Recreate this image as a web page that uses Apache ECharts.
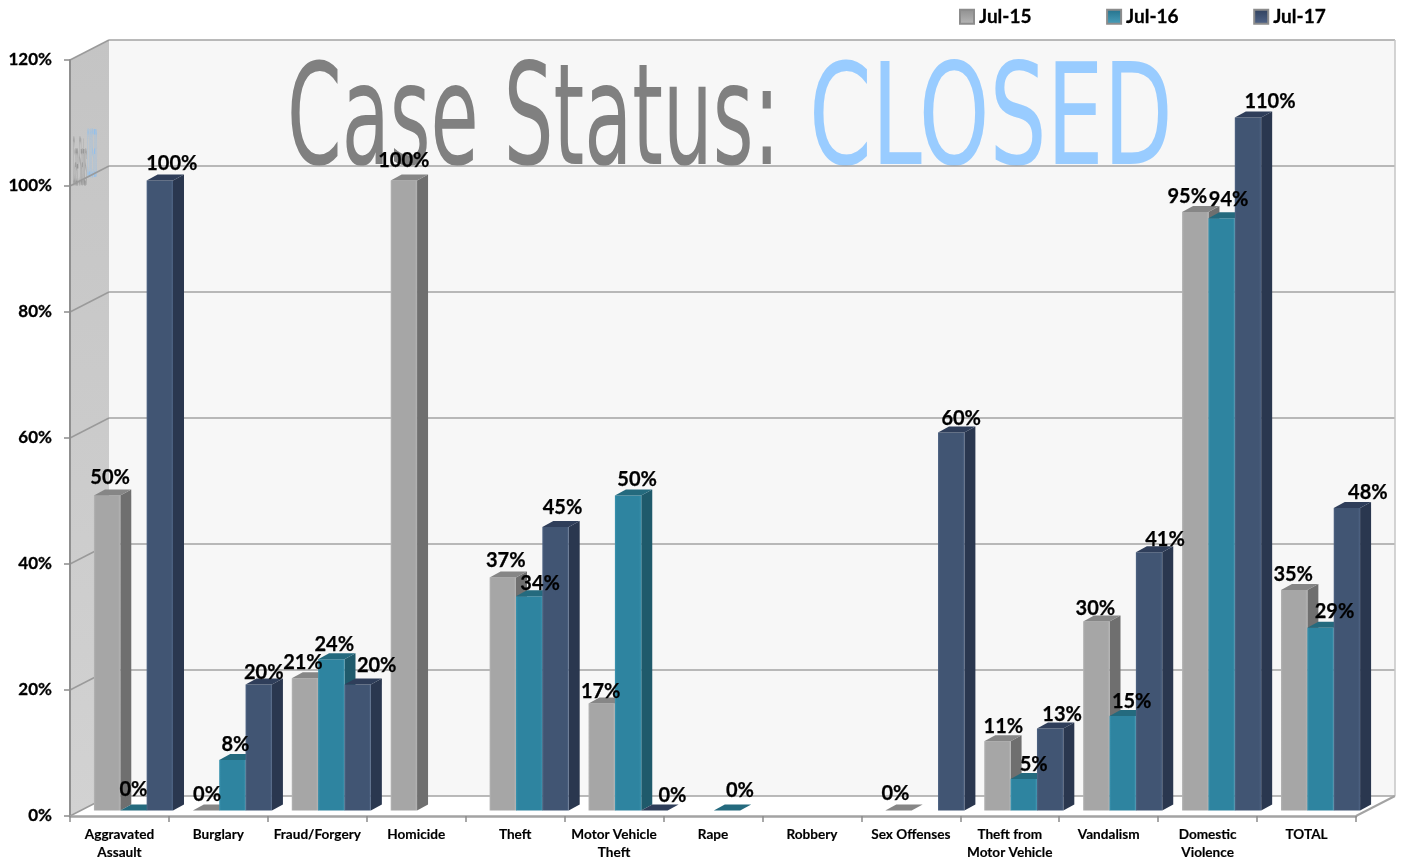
<!DOCTYPE html>
<html>
<head>
<meta charset="utf-8">
<script src="https://cdn.jsdelivr.net/npm/echarts@6/dist/echarts.min.js"></script>
<style>html,body{margin:0;padding:0;background:#fff}#c{width:1403px;height:862px}</style>
</head>
<body>
<div id="c"></div>
<script>
const categories = ['Aggravated\nAssault','Burglary','Fraud/Forgery','Homicide','Theft','Motor Vehicle\nTheft','Rape','Robbery','Sex Offenses','Theft from\nMotor Vehicle','Vandalism','Domestic\nViolence','TOTAL'];
const seriesNames = ['Jul-15','Jul-16','Jul-17'];
const jul15 = [50,0,21,100,37,17,null,null,0,11,30,95,35];
const jul16 = [0,8,24,null,34,50,0,null,null,5,15,94,29];
const jul17 = [100,20,20,null,45,0,null,null,60,13,41,110,48];
const yTicks = [0,20,40,60,80,100,120];
const titleLeft = 'Case Status:';
const titleRight = 'CLOSED';

// label placement tweaks (pixels, relative to the top centre of each bar)
const nudgeX = [
  [3,1,-2,0,3,-1,0,0,-3,6,-1,-8,-1],
  [0,3,3,0,11,9,13,0,0,10,9,7,14],
  [12,5,19,0,7,18,0,0,10,12,16,22,21]
];
const nudgeY = [
  [-18,-16,-16,-20,-17,-12,0,0,-17,-15,-13,-15,-15],
  [-21,-16,-15,0,-13,-16,-20,0,0,-14,-14,-19,-16],
  [-17,-12,-19,0,-19,-15,0,0,-14,-14,-13,-16,-16]
];

const allValues = [jul15, jul16, jul17];
const palette = [
  {front:'#a6a6a6', edge:'#b4b4b4', side:'#6f6f6f', top:'#868686', legend:['#8e8e8e','#b8b8b8']},
  {front:'#2e84a0', edge:'#3a94b0', side:'#1f5a6b', top:'#246a7e', legend:['#23708a','#4aa0bc']},
  {front:'#415573', edge:'#4f6484', side:'#2a374f', top:'#2f3e5a', legend:['#2f3f5c','#52668a']}
];
const WALL_DX = 39, WALL_DY = -20;      // back wall offset from the front plane
const BAR_DX = 14, BAR_DY = -5.5;       // bars stand a third of the way into the floor
const SIDE_DX = 11, SIDE_DY = -6;       // depth of a bar
const LABEL_FONT = '"Lato","Open Sans",sans-serif';

function poly(points, fill, extra) {
  return Object.assign({type:'polygon', shape:{points}, style:{fill, stroke:null}}, extra||{});
}
function seg(x1,y1,x2,y2,color,w) {
  return {type:'line', shape:{x1,y1,x2,y2}, style:{stroke:color, lineWidth:w||1.5}};
}

function renderWalls(params, api) {
  const sys = params.coordSys;
  const L = sys.x, R = sys.x + sys.width;
  const y0 = api.coord([0,0])[1], yMax = api.coord([0,yTicks[yTicks.length-1]])[1];
  const kids = [];
  kids.push(poly([[L+WALL_DX,yMax+WALL_DY],[R+WALL_DX,yMax+WALL_DY],[R+WALL_DX,y0+WALL_DY],[L+WALL_DX,y0+WALL_DY]],'#f7f7f7'));
  kids.push(poly([[L,yMax],[L+WALL_DX,yMax+WALL_DY],[L+WALL_DX,y0+WALL_DY],[L,y0]],
    new echarts.graphic.LinearGradient(0,0,0,1,[{offset:0,color:'#c4c4c4'},{offset:1,color:'#d2d2d2'}])));
  kids.push(poly([[L,y0],[L+WALL_DX,y0+WALL_DY],[R+WALL_DX,y0+WALL_DY],[R,y0]],'#ffffff'));
  // picture on the back wall
  const titleFont = '141px "DejaVu Sans"';
  kids.push({type:'text', x:287, y:127, scaleX:0.556, style:{text:titleLeft, font:titleFont, fill:'#808080', align:'left', verticalAlign:'middle'}});
  kids.push({type:'text', x:809, y:127, scaleX:0.638, style:{text:titleRight, font:titleFont, fill:'#99ccff', align:'left', verticalAlign:'middle'}});
  // the same picture squeezed on the side wall
  kids.push({type:'text', x:73, y:168, scaleX:0.034, style:{text:titleLeft, font:'66px "DejaVu Sans"', fill:'rgba(120,120,120,0.7)', align:'left', verticalAlign:'middle'}});
  kids.push({type:'text', x:87, y:160, scaleX:0.038, style:{text:titleRight, font:'66px "DejaVu Sans"', fill:'rgba(140,190,240,0.85)', align:'left', verticalAlign:'middle'}});
  yTicks.forEach(t => {
    const y = api.coord([0,t])[1];
    kids.push(seg(L,y,L+WALL_DX,y+WALL_DY,'#9a9a9a',1.5));
    kids.push(seg(L+WALL_DX,y+WALL_DY,R+WALL_DX,y+WALL_DY,'#a3a3a3',1.5));
  });
  kids.push(seg(R+WALL_DX,yMax+WALL_DY,R+WALL_DX,y0+WALL_DY,'#c6c6c6',1.5));
  kids.push(seg(R,y0,R+WALL_DX,y0+WALL_DY,'#a3a3a3',2));
  return {type:'group', children:kids};
}

function barGeom(api, idx, s, v) {
  const band = api.size([1,0])[0];
  const w = band * 0.2665;
  const c = api.coord([idx, v]);
  const b = api.coord([idx, 0]);
  const x = c[0] + BAR_DX + (s - 1.5) * w;
  return {x, w, top:c[1]+BAR_DY, base:b[1]+BAR_DY};
}

function makeBarRender(s) {
  return function(params, api) {
    const idx = api.value(0), v = api.value(1);
    const g = barGeom(api, idx, s, v);
    const c = palette[s];
    const x = g.x, w = g.w, t = g.top, b = g.base;
    const kids = [];
    if (b - t > 0.5) {
      kids.push(poly([[x+w,t],[x+w+SIDE_DX,t+SIDE_DY],[x+w+SIDE_DX,b+SIDE_DY],[x+w,b]], c.side));
      kids.push({type:'rect', shape:{x,y:t,width:w,height:b-t}, style:{
        fill:new echarts.graphic.LinearGradient(0,0,1,0,[
          {offset:0,color:c.edge},{offset:0.07,color:c.front},{offset:0.92,color:c.front},{offset:1,color:c.edge}])}});
    }
    kids.push(poly([[x,t],[x+SIDE_DX,t+SIDE_DY],[x+w+SIDE_DX,t+SIDE_DY],[x+w,t]], c.top));
    return {type:'group', children:kids};
  };
}

function makeLabelRender(s) {
  return function(params, api) {
    const idx = api.value(0), v = api.value(1);
    const g = barGeom(api, idx, s, v);
    return {type:'text', x:g.x + g.w/2 + nudgeX[s][idx], y:g.top + nudgeY[s][idx],
      style:{text:v + '%', font:'bold 20px ' + LABEL_FONT, fill:'#000', stroke:'#000', lineWidth:0.25, align:'center', verticalAlign:'middle'}};
  };
}

function pairs(values) {
  const out = [];
  values.forEach((v,i) => { if (v !== null) out.push([i,v]); });
  return out;
}

const series = [{
  type:'custom', name:'walls', z:1, silent:true, clip:false, renderItem:renderWalls,
  coordinateSystem:'cartesian2d', data:[[0,0]], encode:{x:0,y:1}
}];
seriesNames.forEach((name,s) => {
  series.push({
    type:'custom', name, z:3, silent:true, clip:false, renderItem:makeBarRender(s),
    coordinateSystem:'cartesian2d', data:pairs(allValues[s]), encode:{x:0,y:1},
    itemStyle:{color:new echarts.graphic.LinearGradient(0,0,0,1,[{offset:0,color:palette[s].legend[0]},{offset:1,color:palette[s].legend[1]}]), borderColor:'#8c8c8c', borderWidth:1}
  });
});
seriesNames.forEach((name,s) => {
  series.push({
    type:'custom', name:name+' labels', z:5, silent:true, clip:false, renderItem:makeLabelRender(s),
    coordinateSystem:'cartesian2d', data:pairs(allValues[s]), encode:{x:0,y:1}
  });
});

const chart = echarts.init(document.getElementById('c'), null, {renderer:'canvas'});
chart.setOption({
  animation:false,
  backgroundColor:'#ffffff',
  legend:{
    data:seriesNames, left:954, top:2, icon:'rect', itemWidth:14, itemHeight:14, itemGap:74.5,
    textStyle:{fontFamily:LABEL_FONT, fontWeight:'bold', fontSize:19, color:'#000', textBorderColor:'#000', textBorderWidth:0.3}
  },
  grid:{left:70, right:47, top:60, bottom:46, containLabel:false},
  xAxis:{
    type:'category', data:categories, boundaryGap:true, z:4,
    axisLine:{show:true, lineStyle:{color:'#a3a3a3', width:2.5}},
    axisTick:{show:true, length:6, alignWithLabel:false, lineStyle:{color:'#8c8c8c', width:1.5}},
    axisLabel:{interval:0, margin:10, lineHeight:18, fontFamily:LABEL_FONT, fontWeight:'bold', fontSize:13.6, color:'#000', textBorderColor:'#000', textBorderWidth:0.15},
    splitLine:{show:false}
  },
  yAxis:{
    type:'value', min:0, max:120, interval:20, z:4,
    axisLine:{show:true, lineStyle:{color:'#8f8f8f', width:2}},
    axisTick:{show:true, length:6, lineStyle:{color:'#8c8c8c', width:1.5}},
    axisLabel:{margin:18, formatter:'{value}%', fontFamily:LABEL_FONT, fontWeight:'bold', fontSize:17, color:'#000', textBorderColor:'#000', textBorderWidth:0.3, padding:[3,0,0,0]},
    splitLine:{show:false}
  },
  series
});
</script>
</body>
</html>
